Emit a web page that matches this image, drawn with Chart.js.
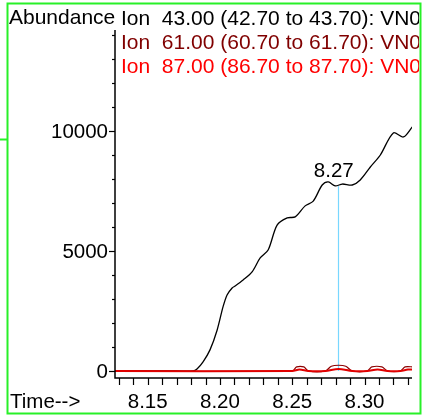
<!DOCTYPE html>
<html>
<head>
<meta charset="utf-8">
<script src="https://cdn.jsdelivr.net/npm/chart.js@4/dist/chart.umd.min.js"></script>
<style>
  body { margin: 0; background: #fff; }
  canvas { display: block; }
</style>
</head>
<body>
<canvas id="ticCanvas" width="425" height="417"></canvas>
<script>
// ion 43 trace (time in min, abundance)
const time43 = [8.1274, 8.1700, 8.1814, 8.1841, 8.1883, 8.1931, 8.1980, 8.2021, 8.2049, 8.2084, 8.2105,
  8.2160, 8.2222, 8.2278, 8.2333, 8.2395, 8.2465, 8.2520, 8.2589, 8.2645, 8.2707, 8.2749, 8.2797,
  8.2846, 8.2915, 8.2970, 8.3040, 8.3109, 8.3199, 8.3268, 8.3330];
const abund43 = [0, 0, 0, 80, 380, 880, 1700, 2670, 3170, 3460, 3540,
  3790, 4130, 4710, 5040, 6080, 6380, 6420, 6880, 7080, 7750, 7880, 7710,
  7790, 7750, 7960, 8500, 9000, 9920, 9750, 10170];

// ion 61 trace
const time61 = [8.1274, 8.2500, 8.2530, 8.2580, 8.2611, 8.2728, 8.2770, 8.2820, 8.2870, 8.2915,
  8.3019, 8.3050, 8.3120, 8.3158, 8.3248, 8.3280, 8.3338];
const abund61 = [0, 0, 170, 170, 0, 0, 200, 240, 200, 0, 0, 170, 170, 0, 0, 170, 170];

// ion 87 trace
const time87 = [8.1274, 8.2500, 8.2550, 8.2611, 8.2728, 8.2820, 8.2915, 8.3019, 8.3090, 8.3158, 8.3248, 8.3300, 8.3338];
const abund87 = [0, 0, 60, 0, 0, 80, 0, 0, 60, 0, 0, 60, 60];

const ionLabels = [
  "Ion  43.00 (42.70 to 43.70): VN0",
  "Ion  61.00 (60.70 to 61.70): VN0",
  "Ion  87.00 (86.70 to 87.70): VN0"
];
const ionColors = ["#000000", "#800000", "#ff0000"];

const xTicks = [8.15, 8.20, 8.25, 8.30];
const yTicks = [0, 5000, 10000];

const peakTime = 8.2815;
const peakTop = 7700;
const peakLabel = "8.27";

const FONT = '20.5px "Liberation Sans", Arial, sans-serif';
const HEAD_FONT = '21px "Liberation Sans", Arial, sans-serif';

function pts(xs, ys) {
  return xs.map((x, i) => ({ x: x, y: ys[i] }));
}

const chromPlugin = {
  id: "chrom",
  beforeDatasetsDraw(chart) {
    const ctx = chart.ctx;
    const xs = chart.scales.x, ys = chart.scales.y;
    ctx.save();
    ctx.strokeStyle = "rgb(120,215,255)";
    ctx.lineWidth = 1.2;
    const px = Math.round(xs.getPixelForValue(peakTime)) + 0.5;
    ctx.beginPath();
    ctx.moveTo(px, ys.getPixelForValue(0));
    ctx.lineTo(px, ys.getPixelForValue(peakTop));
    ctx.stroke();
    ctx.restore();
  },
  afterDraw(chart) {
    const ctx = chart.ctx;
    const xs = chart.scales.x, ys = chart.scales.y;
    const area = chart.chartArea;
    ctx.save();

    // axes
    ctx.strokeStyle = "#000";
    ctx.lineWidth = 1.5;
    ctx.beginPath();
    ctx.moveTo(area.left, area.top);
    ctx.lineTo(area.left, area.bottom);
    ctx.lineTo(area.right, area.bottom);
    ctx.stroke();

    ctx.lineWidth = 1.2;
    // y minor ticks every 1000
    for (let v = 0; v <= ys.max; v += 1000) {
      const y = Math.round(ys.getPixelForValue(v)) + 0.5;
      const len = v % 5000 === 0 ? 6 : 3;
      ctx.beginPath();
      ctx.moveTo(area.left - len, y);
      ctx.lineTo(area.left, y);
      ctx.stroke();
    }
    // x ticks every 0.01
    for (let k = Math.ceil(xs.min * 100); k <= Math.floor(xs.max * 100); k++) {
      const x = Math.round(xs.getPixelForValue(k / 100)) + 0.5;
      ctx.beginPath();
      ctx.moveTo(x, area.bottom);
      ctx.lineTo(x, area.bottom + 7);
      ctx.stroke();
    }

    ctx.font = FONT;
    ctx.fillStyle = "#000";
    ctx.textAlign = "right";
    ctx.textBaseline = "middle";
    yTicks.forEach(v => ctx.fillText(String(v), area.left - 7, ys.getPixelForValue(v) + 1));
    ctx.textAlign = "center";
    ctx.textBaseline = "alphabetic";
    xTicks.forEach(v => ctx.fillText(v.toFixed(2), xs.getPixelForValue(v), 408));

    ctx.textAlign = "left";
    ctx.fillText("Time-->", 10, 408);

    // peak label
    ctx.textAlign = "center";
    ctx.fillText(peakLabel, xs.getPixelForValue(peakTime) - 4, ys.getPixelForValue(peakTop) - 9);

    // header lines, clipped at frame
    ctx.save();
    ctx.beginPath();
    ctx.rect(0, 0, 419, 417);
    ctx.clip();
    ctx.font = HEAD_FONT;
    ctx.textAlign = "left";
    ctx.fillStyle = "#000";
    ctx.fillText("Abundance", 9, 24);
    ionLabels.forEach((t, i) => {
      ctx.fillStyle = ionColors[i];
      ctx.fillText(t, 121, 24.5 + i * 24.3);
    });
    ctx.restore();

    // green frame
    ctx.strokeStyle = "rgb(40,240,40)";
    ctx.lineWidth = 2;
    ctx.strokeRect(7.5, 3.5, 413, 410);
    ctx.beginPath();
    ctx.moveTo(0, 139.5);
    ctx.lineTo(7, 139.5);
    ctx.stroke();
    ctx.restore();
  }
};

const chromChart = new Chart(document.getElementById("ticCanvas"), {
  type: "line",
  data: {
    datasets: [
      {
        label: ionLabels[2],
        data: pts(time87, abund87),
        borderColor: "rgb(225,0,0)",
        borderWidth: 2,
        pointRadius: 0,
        tension: 0.3
      },
      {
        label: ionLabels[1],
        data: pts(time61, abund61),
        borderColor: "rgb(140,0,0)",
        borderWidth: 1.2,
        pointRadius: 0,
        tension: 0.3
      },
      {
        label: ionLabels[0],
        data: pts(time43, abund43),
        borderColor: "#000",
        borderWidth: 1.3,
        pointRadius: 0,
        tension: 0.3
      }
    ]
  },
  options: {
    responsive: false,
    devicePixelRatio: 1,
    animation: false,
    layout: { padding: { left: 115, right: 13, top: 30, bottom: 39 } },
    plugins: { legend: { display: false }, tooltip: { enabled: false } },
    scales: {
      x: { type: "linear", min: 8.1274, max: 8.3328, display: false },
      y: { type: "linear", min: -292, max: 14208, display: false }
    }
  },
  plugins: [chromPlugin]
});
</script>
</body>
</html>
